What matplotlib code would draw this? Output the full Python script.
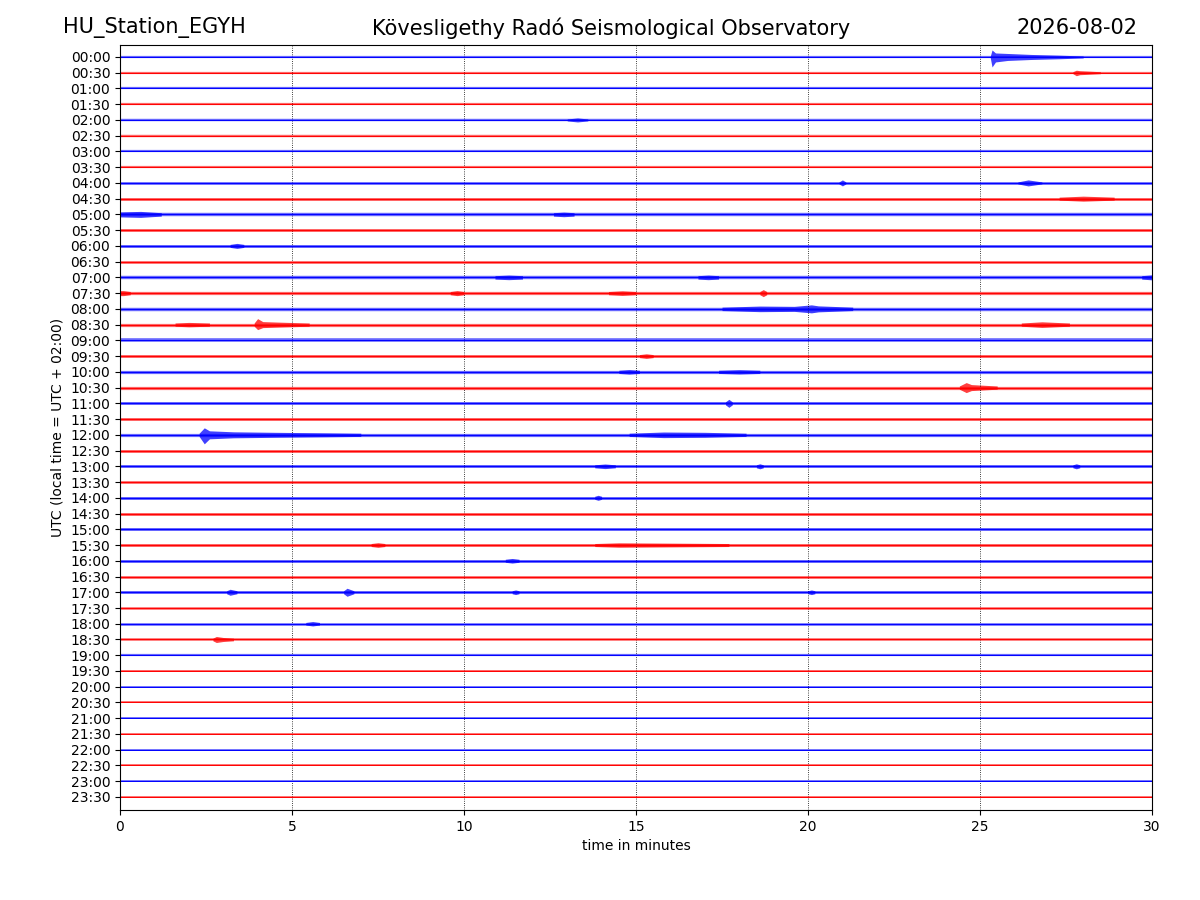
import numpy as np
import matplotlib
matplotlib.use("Agg")
import matplotlib.pyplot as plt

station = "HU_Station_EGYH"
observatory = "Kövesligethy Radó Seismological Observatory"
date_str = "2026-08-02"

# one row per half hour
row_labels = ["%02d:%02d" % (h, m) for h in range(24) for m in (0, 30)]

# background noise half-width of each trace, in pixels
noise_px = [1.1, 1.1, 1.1, 1.1, 1.2, 1.2, 1.1, 1.1,
            1.4, 1.5, 1.7, 1.5, 1.5, 1.4, 1.7, 1.6,
            1.7, 1.6, 1.8, 1.5, 1.6, 1.6, 1.5, 1.5,
            1.6, 1.5, 1.5, 1.4, 1.5, 1.5, 1.5, 1.5,
            1.5, 1.4, 1.5, 1.3, 1.3, 1.3, 1.1, 1.0,
            0.9, 0.9, 0.9, 0.9, 0.9, 0.9, 0.9, 0.9]

# events: row, envelope times (min), upper half-amplitude (px), lower half-amplitude (px)
events = [
    (0, [25.3, 25.35, 25.45, 25.8, 26.5, 27.3, 28.0], [1, 7, 4, 3.5, 2.5, 1.8, 1], [1, 10, 5, 3.5, 2.5, 1.8, 1]),
    (1, [27.7, 27.8, 27.9, 28.5], [1, 2.5, 2, 1], [1, 3, 2, 1]),
    (4, [13.0, 13.3, 13.6], [1, 2, 1], [1, 2, 1]),
    (8, [20.9, 21.0, 21.1], [1, 3, 1], [1, 3, 1]),
    (8, [26.1, 26.4, 26.8], [1, 3, 1], [1, 3, 1]),
    (9, [27.3, 28.0, 28.9], [1.5, 2.5, 1.5], [1.5, 2.5, 1.5]),
    (10, [0.0, 0.6, 1.2], [2.5, 3, 1.7], [2.5, 3, 1.7]),
    (10, [12.6, 12.9, 13.2], [1.7, 2.3, 1.7], [1.7, 2.3, 1.7]),
    (12, [3.2, 3.4, 3.6], [1.5, 2.5, 1.5], [1.5, 2.5, 1.5]),
    (14, [10.9, 11.3, 11.7], [1.7, 2.3, 1.7], [1.7, 2.3, 1.7]),
    (14, [16.8, 17.1, 17.4], [1.7, 2.3, 1.7], [1.7, 2.3, 1.7]),
    (14, [29.7, 30.0], [1.7, 2.5], [1.7, 2.5]),
    (15, [0.0, 0.1, 0.3], [2.5, 2.5, 1.6], [2.5, 2.5, 1.6]),
    (15, [9.6, 9.8, 10.0], [1.6, 2.5, 1.6], [1.6, 2.5, 1.6]),
    (15, [14.2, 14.6, 15.0], [1.6, 2.3, 1.6], [1.6, 2.3, 1.6]),
    (15, [18.6, 18.7, 18.8], [1.6, 3.5, 1.6], [1.6, 3.5, 1.6]),
    (16, [17.5, 18.6, 19.6, 20.1, 20.3, 21.3], [1.7, 2.8, 2.5, 4, 3, 1.7], [1.7, 2.8, 2.5, 4, 3, 1.7]),
    (17, [1.6, 2.0, 2.6], [1.6, 2.2, 1.6], [1.6, 2.2, 1.6]),
    (17, [3.9, 4.0, 4.15, 4.6, 5.5], [1.6, 6, 3, 2.5, 1.6], [1.6, 5, 3, 2.5, 1.6]),
    (17, [26.2, 26.8, 27.6], [1.6, 2.8, 1.6], [1.6, 2.8, 1.6]),
    (19, [15.1, 15.3, 15.5], [1.5, 2.3, 1.5], [1.5, 2.3, 1.5]),
    (20, [14.5, 14.8, 15.1], [1.6, 2.3, 1.6], [1.6, 2.3, 1.6]),
    (20, [17.4, 18.0, 18.6], [1.6, 2.2, 1.6], [1.6, 2.2, 1.6]),
    (21, [24.4, 24.6, 24.75, 25.5], [1.6, 5, 3, 1.6], [1.6, 5, 3, 1.6]),
    (22, [17.6, 17.7, 17.8], [1.5, 4, 1.5], [1.5, 4, 1.5]),
    (24, [2.3, 2.45, 2.6, 3.3, 4.5, 6.0, 7.0], [1.6, 7, 4, 3, 2.5, 2, 1.6], [1.6, 9, 4, 3, 2.5, 2, 1.6]),
    (24, [14.8, 15.8, 17.0, 18.2], [1.6, 2.8, 2.5, 1.6], [1.6, 2.8, 2.5, 1.6]),
    (26, [13.8, 14.1, 14.4], [1.5, 2.3, 1.5], [1.5, 2.3, 1.5]),
    (26, [18.5, 18.6, 18.7], [1.5, 2.5, 1.5], [1.5, 2.5, 1.5]),
    (26, [27.7, 27.8, 27.9], [1.5, 2.5, 1.5], [1.5, 2.5, 1.5]),
    (28, [13.8, 13.9, 14.0], [1.5, 2.5, 1.5], [1.5, 2.5, 1.5]),
    (31, [7.3, 7.5, 7.7], [1.5, 2.3, 1.5], [1.5, 2.3, 1.5]),
    (31, [13.8, 14.5, 17.7], [1.5, 2.2, 1.5], [1.5, 2.2, 1.5]),
    (32, [11.2, 11.4, 11.6], [1.5, 2.3, 1.5], [1.5, 2.3, 1.5]),
    (34, [3.1, 3.2, 3.4], [1.5, 3, 1.5], [1.5, 3, 1.5]),
    (34, [6.5, 6.6, 6.8], [1.5, 4, 1.5], [1.5, 4, 1.5]),
    (34, [11.4, 11.5, 11.6], [1.5, 2.3, 1.5], [1.5, 2.3, 1.5]),
    (34, [20.0, 20.1, 20.2], [1.5, 2.3, 1.5], [1.5, 2.3, 1.5]),
    (36, [5.4, 5.6, 5.8], [1.3, 2.2, 1.3], [1.3, 2.2, 1.3]),
    (37, [2.7, 2.8, 3.0, 3.3], [1.3, 3, 2, 1.3], [1.3, 3, 2, 1.3]),
]

fig = plt.figure(figsize=(12, 9), dpi=100)
ax = fig.add_axes([0.1, 0.1, 0.86, 0.85])

ylo, yhi = 47.83, -0.76
px_per_unit = 765.0 / (ylo - yhi)

for i, lab in enumerate(row_labels):
    color = "#0000ff" if i % 2 == 0 else "#ff0000"
    # noise band drawn as one thick line (1 px = 0.72 pt at 100 dpi)
    ax.plot([0, 30], [i, i], color=color, lw=2 * noise_px[i] * 0.72, alpha=0.6,
            solid_capstyle="butt")
    ax.plot([0, 30], [i, i], color=color, lw=0.7)

for row, t, up, dn in events:
    color = "#0000ff" if row % 2 == 0 else "#ff0000"
    t = np.array(t)
    up = np.array(up) / px_per_unit
    dn = np.array(dn) / px_per_unit
    ax.fill_between(t, row - up, row + dn, color=color, lw=0, alpha=0.75)

ax.set_xlim(0, 30)
ax.set_ylim(ylo, yhi)
ax.set_yticks(range(len(row_labels)))
ax.set_yticklabels(row_labels)
ax.set_xticks([0, 5, 10, 15, 20, 25, 30])
ax.grid(axis="x", linestyle=":", color="black", linewidth=0.6)
ax.set_xlabel("time in minutes")
ax.set_ylabel("UTC (local time = UTC + 02:00)")

fig.text(0.0525, 0.969, station, ha="left", va="center", fontsize=15)
fig.text(0.509, 0.969, observatory, ha="center", va="center", fontsize=15)
fig.text(0.9475, 0.969, date_str, ha="right", va="center", fontsize=15)

fig.savefig("out.png", dpi=100)
